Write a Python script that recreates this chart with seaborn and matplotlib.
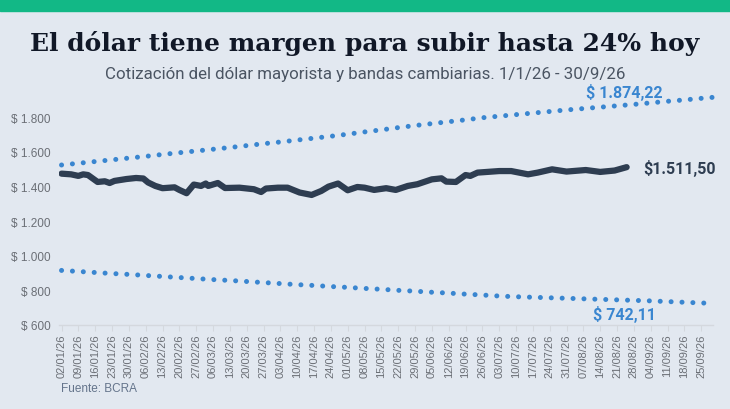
import matplotlib
matplotlib.use("Agg")
import matplotlib.pyplot as plt
import matplotlib.dates as mdates
import numpy as np
import pandas as pd
import seaborn as sns

START = "2026-01-02"

# cotización mayorista (días desde 02/01/26, valor en $)
rate_days = [0, 4, 7, 9, 11, 15, 18, 20, 22, 27, 31, 34, 36, 39, 42, 47, 49, 52,
             55, 58, 60, 61, 65, 68, 74, 80, 83, 85, 90, 94, 99, 104, 108, 111,
             115, 119, 123, 126, 130, 135, 139, 144, 148, 154, 158, 160, 164, 168,
             170, 173, 182, 187, 194, 198, 204, 210, 218, 224, 230, 235]
rate_values = [1474, 1470, 1461, 1470, 1466, 1426, 1430, 1420, 1432, 1443, 1449,
               1446, 1423, 1403, 1390, 1395, 1380, 1361, 1411, 1403, 1417, 1403,
               1420, 1391, 1393, 1384, 1368, 1388, 1393, 1393, 1365, 1351, 1374,
               1399, 1417, 1378, 1397, 1393, 1380, 1390, 1380, 1403, 1413, 1441,
               1447, 1428, 1426, 1466, 1461, 1480, 1489, 1489, 1470, 1480, 1499,
               1486, 1495, 1484, 1492, 1511.5]

# bandas cambiarias (semanal)
band_days = [0, 7, 14, 21, 28, 35, 42, 49, 56, 63, 70, 77, 84, 91, 98, 105, 112,
             119, 126, 133, 140, 147, 154, 161, 168, 175, 182, 189, 196, 203, 210,
             217, 224, 231, 238, 245, 252, 259, 266, 271]
band_upper = [1524, 1534, 1544, 1554, 1564, 1574, 1585, 1595, 1605, 1615, 1625,
              1636, 1647, 1657, 1668, 1679, 1690, 1702, 1715, 1727, 1740, 1752,
              1763, 1774, 1785, 1797, 1806, 1815, 1824, 1833, 1842, 1850, 1858,
              1866, 1874, 1883, 1892, 1900, 1909, 1915]
band_lower = [915, 909, 903, 897, 892, 886, 880, 874, 868, 862, 857, 851, 845,
              839, 833, 828, 822, 817, 811, 806, 800, 795, 789, 784, 778, 773,
              767, 763, 760, 757, 754, 751, 748, 745, 742, 739, 735, 731, 727, 725]

y_ticks = [600, 800, 1000, 1200, 1400, 1600, 1800]

BG = "#e2e8f0"
GREEN = "#12b886"
DARK = "#2e3d51"
BLUE = "#3a86d0"
GREY = "#6b6f76"

start = pd.Timestamp(START)
rate = pd.DataFrame({"fecha": start + pd.to_timedelta(rate_days, unit="D"),
                     "valor": rate_values})
bands = pd.DataFrame({"fecha": start + pd.to_timedelta(band_days, unit="D"),
                      "techo": band_upper, "piso": band_lower})

sns.set_theme(style="white")
plt.rcParams["font.family"] = ["Liberation Sans", "DejaVu Sans"]

fig = plt.figure(figsize=(7.3, 4.1), dpi=100, facecolor=BG)
ax = fig.add_axes([0.081, 0.205, 0.896, 0.57], facecolor=BG)

# barra verde superior
fig.patches.append(plt.Rectangle((0, 0.97), 1, 0.03, transform=fig.transFigure,
                                 color=GREEN, zorder=0))

dot_style = dict(color=BLUE, linewidth=3.6, linestyle=(0, (0.01, 2.17)),
                 dash_capstyle="round", clip_on=False)
sns.lineplot(data=bands, x="fecha", y="techo", ax=ax, **dot_style)
sns.lineplot(data=bands, x="fecha", y="piso", ax=ax, **dot_style)
sns.lineplot(data=rate, x="fecha", y="valor", ax=ax, color=DARK, linewidth=4.5,
             solid_capstyle="round", solid_joinstyle="round")

ax.set_xlim(start - pd.Timedelta(days=1), start + pd.Timedelta(days=271))
ax.set_ylim(600, 1950)
ax.set_yticks(y_ticks)
ax.set_yticklabels([f"$ {v:,}".replace(",", ".") for v in y_ticks])

week_ticks = pd.date_range(START, "2026-09-25", freq="7D")
ax.set_xticks(week_ticks)
ax.xaxis.set_major_formatter(mdates.DateFormatter("%d/%m/%y"))
ax.tick_params(axis="x", rotation=90, labelsize=8, colors="#d4d8de",
               labelcolor=GREY, length=4, width=0.8, bottom=True, pad=2)
ax.tick_params(axis="y", labelsize=8.5, labelcolor=GREY, length=0, pad=6)
ax.set_xlabel("")
ax.set_ylabel("")
for side in ["top", "right", "left"]:
    ax.spines[side].set_visible(False)
ax.spines["bottom"].set_color("#d4d8de")
ax.spines["bottom"].set_linewidth(1.0)

# etiquetas de valores
last_date = rate["fecha"].iloc[-1]
ax.annotate("$1.511,50", (last_date, rate_values[-1]), xytext=(12, 0),
            textcoords="offset points", ha="left", va="center",
            fontsize=11.5, fontweight="bold", color=DARK, family="Roboto")
label_date = start + pd.Timedelta(days=234)
ax.annotate("$ 1.874,22", (label_date, 1869), xytext=(0, 10),
            textcoords="offset points", ha="center", va="center",
            fontsize=11.5, fontweight="bold", color=BLUE, family="Roboto")
ax.annotate("$ 742,11", (label_date, 744), xytext=(0, -10),
            textcoords="offset points", ha="center", va="center",
            fontsize=11.5, fontweight="bold", color=BLUE, family="Roboto")

fig.text(0.5, 0.893, "El dólar tiene margen para subir hasta 24% hoy",
         ha="center", va="center", fontsize=18, fontweight="bold",
         color="#111827", family="DejaVu Serif")
fig.text(0.5, 0.818, "Cotización del dólar mayorista y bandas cambiarias. 1/1/26 - 30/9/26",
         ha="center", va="center", fontsize=12.2, color="#4b5563", family="Roboto")
fig.text(0.083, 0.052, "Fuente: BCRA", ha="left", va="center", fontsize=8.5,
         color="#64748b")

fig.savefig("out.png", dpi=100, facecolor=BG)
